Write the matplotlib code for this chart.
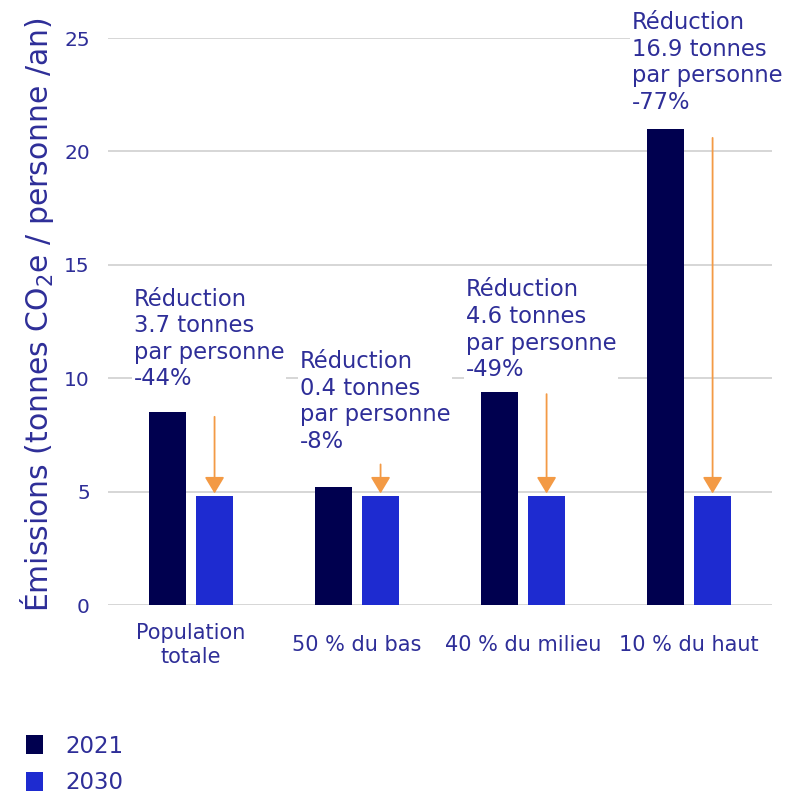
import matplotlib
matplotlib.use('Agg')
import matplotlib.pyplot as plt
import numpy as np

# data
categories = ['Population\ntotale', '50 % du bas', '40 % du milieu', '10 % du haut']
emis_2021 = [8.5, 5.2, 9.4, 21.0]
emis_2030 = [4.8, 4.8, 4.8, 4.8]
reduction_t = [3.7, 0.4, 4.6, 16.9]
reduction_pct = [44, 8, 49, 77]
series_names = ['2021', '2030']

# layout for annotations (data units)
arrow_top = [8.3, 6.2, 9.3, 20.6]
label_top = [14.0, 11.25, 14.4, 26.2]

c_dark = '#00004f'
c_blue = '#1e2bd0'
c_orange = '#f39a45'
c_text = '#2e2e98'

plt.rcParams['font.family'] = ['DejaVu Sans']

fig = plt.figure(figsize=(7.91, 7.94), dpi=100)
ax = fig.add_axes([0.1365, 0.238, 0.8395, 0.714])

x = np.arange(len(categories))
w = 0.225
b1 = ax.bar(x - 0.142, emis_2021, w, color=c_dark, zorder=3, label=series_names[0])
b2 = ax.bar(x + 0.142, emis_2030, w, color=c_blue, zorder=3, label=series_names[1])

for i in range(len(categories)):
    ax.annotate('', xy=(x[i] + 0.142, emis_2030[i] + 0.12),
                xytext=(x[i] + 0.142, arrow_top[i]),
                arrowprops=dict(arrowstyle='-|>,head_length=0.5,head_width=0.3',
                                color=c_orange, lw=1.3,
                                mutation_scale=20, shrinkA=0, shrinkB=0),
                zorder=4)
    txt = 'Réduction\n%.1f tonnes\npar personne\n-%d%%' % (reduction_t[i], reduction_pct[i])
    ax.text(x[i] - 0.345, label_top[i], txt, ha='left', va='top', fontsize=16.3,
            color=c_text, linespacing=1.2, zorder=5, clip_on=False,
            bbox=dict(facecolor='white', edgecolor='none', pad=1))

ax.set_xlim(-0.5, 3.5)
ax.set_ylim(0, 25)
ax.set_yticks([0, 5, 10, 15, 20, 25])
ax.set_xticks(x)
ax.set_xticklabels(categories, fontsize=15, color=c_text, va='center', linespacing=1.25)
ax.tick_params(axis='x', length=0, pad=29)
ax.tick_params(axis='y', length=0, pad=13, labelsize=14.5, labelcolor=c_text)
ax.yaxis.grid(True, color='#d0d0d0', lw=1.2, zorder=0)
ax.set_axisbelow(True)
for s in ax.spines.values():
    s.set_visible(False)

ax.set_ylabel('Émissions (tonnes CO$_2$e / personne /an)', fontsize=21.5, color=c_text)
ax.yaxis.set_label_coords(-0.079, 0.513)

fig.legend(handles=[b1, b2], labels=series_names, loc='upper left',
           bbox_to_anchor=(0.012, 0.095), frameon=False, fontsize=16.5,
           handlelength=0.75, handleheight=0.9, handletextpad=1.0,
           labelspacing=0.6, labelcolor=c_text, borderaxespad=0.3)

fig.savefig('out.png', dpi=100)
